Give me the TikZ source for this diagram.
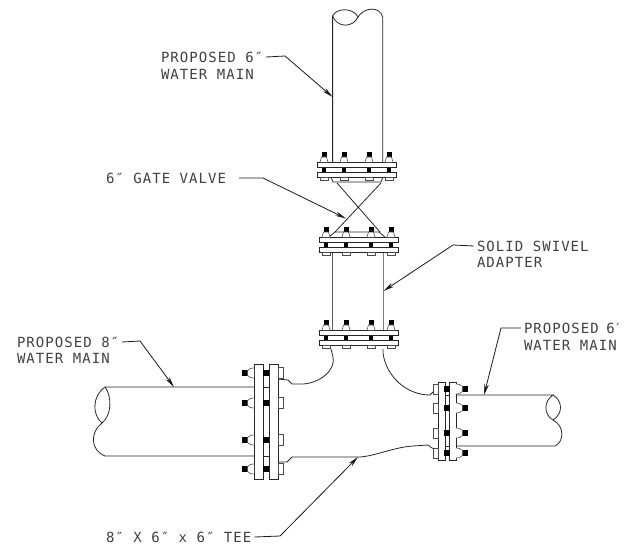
\documentclass[tikz,border=0pt]{standalone}
\usepackage{fontspec}
\setmainfont[LetterSpace=7.5]{DejaVu Sans Mono}
\usetikzlibrary{arrows.meta}
\tikzset{
  pipeline/.style={draw=black!85,line width=0.8pt},
  plate/.style={draw=black!85,line width=0.8pt,fill=white},
  nutblack/.style={fill=black},
  nutwhite/.style={draw=black!70,line width=0.6pt,fill=white},
  leader/.style={draw=black!90,line width=0.8pt,-{Stealth[length=11pt,width=4.5pt]}},
  lab/.style={inner sep=0pt,outer sep=3pt,anchor=west,text=black!75,font=\fontsize{14}{16}\selectfont},
}
% horizontal flange pair: xleft, xright, ytop, bolt list
\newcommand{\hflange}[4]{
  \draw[plate] (#1,#3) rectangle (#2,#3+5);
  \draw[plate] (#1,#3+10) rectangle (#2,#3+15);
  \foreach \bx in {#4}{
    \fill[nutblack] (\bx-2.5,#3-10.5) rectangle (\bx+2.5,#3-5);
    \draw[nutwhite] (\bx-4,#3) .. controls (\bx-4,#3-2) .. (\bx-2.5,#3-5) -- (\bx+2.5,#3-5) .. controls (\bx+4,#3-2) .. (\bx+4,#3);
    \fill[nutblack] (\bx-2.2,#3+5.5) rectangle (\bx+2.2,#3+9.5);
    \draw[nutwhite] (\bx-4,#3+15) rectangle (\bx+4,#3+18.5);
  }
}
% one bolt of a vertical flange: dome face x, hex face x, y, direction of black nut, centre x
\newcommand{\vbolt}[5]{%
  \fill[nutblack] (#1+#4*6.5,#3-3) rectangle (#1+#4*12,#3+3);
  \draw[nutwhite] (#1,#3-5) .. controls (#1+#4*3,#3-5) .. (#1+#4*6.5,#3-2.5) -- (#1+#4*6.5,#3+2.5) .. controls (#1+#4*3,#3+5) .. (#1,#3+5);
  \fill[nutblack] (#5-2.6,#3-2.8) rectangle (#5+2.6,#3+2.8);
  \draw[nutwhite] (#2,#3-5) rectangle (#2-#4*4.5,#3+5);
}
\begin{document}
\begin{tikzpicture}[x=1pt,y=-1pt]
\useasboundingbox (0,0) rectangle (624,549);

% upper pipe with break
\draw[pipeline] (332.6,162) -- (332.6,16) .. controls (336,8) and (353,7) .. (358,17)
  .. controls (364,7) and (380,6) .. (382.7,17) -- (382.7,162);
\draw[pipeline] (332.6,16) .. controls (337,28) and (353,28) .. (358,17);

% valve body
\draw[pipeline] (331,177) -- (333,182) -- (381,182) -- (383,177);
\draw[pipeline] (337,183) -- (380,232);
\draw[pipeline] (381,183) -- (335,232);
\draw[pipeline] (329,237) -- (335,232) -- (379,232) -- (385,237);

% swivel adapter
\draw[draw=black!65,line width=1pt] (332.3,252) -- (332.3,330);
\draw[draw=black!50,line width=1.3pt] (383.2,252) -- (383.2,330);

% left main with break
\draw[pipeline] (254,387) -- (105,387) .. controls (92,396) and (92,415) .. (102,423)
  .. controls (90,432) and (90,450) .. (105,456) -- (254,456);
\draw[pipeline] (105,387) .. controls (112,396) and (112,415) .. (102,423);

% right main with break
\draw[pipeline] (456,395) -- (553,395) .. controls (544,401) and (543,414) .. (553,420)
  .. controls (565,426) and (564,442) .. (555,446) -- (456,446);
\draw[pipeline] (553,395) .. controls (563,401) and (563,414) .. (553,420);

% tee body
\draw[pipeline] (278,379) -- (288,380) -- (292,384) -- (303,384)
  .. controls (320,383) and (336,370) .. (333,357) -- (331,349);
\draw[pipeline] (383,349) -- (383,353) .. controls (386,376) and (406,395) .. (430,395)
  -- (433,392) -- (438,392);
\draw[pipeline] (278,462) -- (287,462) -- (292,457) -- (360,457)
  .. controls (375,456) and (395,447) .. (413,446) -- (428,445) -- (432,448) -- (438,450);

% flanges on the vertical run
\hflange{317}{396}{162}{324,344,369,389}
\hflange{319}{398}{237}{326,346,371,391}
\hflange{319}{398}{330}{326,346,371,391}

% left flange
\draw[plate] (254,364) rectangle (263,479);
\draw[plate] (269,364) rectangle (278,479);
\draw[pipeline] (263,387) -- (269,387) (263,456) -- (269,456);
\foreach \by in {373,403,440,469}{\vbolt{254}{278}{\by}{-1}{266}}
\foreach \by in {373,403,440,469}{\draw[nutwhite] (278,\by-5.5) rectangle (283,\by+5.5);}

% right flange
\draw[plate] (438,382) rectangle (445,460);
\draw[plate] (449,382) rectangle (456,460);
\draw[pipeline] (445,395) -- (449,395) (445,446) -- (449,446);
\foreach \by in {389,408,433,453}{\vbolt{456}{438}{\by}{1}{447}}

% labels
\node[lab] (l1a) at (158,57) {PROPOSED 6″};
\node[lab] (l1b) at (158,74) {WATER MAIN};
\node[lab] (l2)  at (103,178) {6″ GATE VALVE};
\node[lab] (l3a) at (474,246) {SOLID SWIVEL};
\node[lab] (l3b) at (474,262) {ADAPTER};
\node[lab] (l4a) at (14,342) {PROPOSED 8″};
\node[lab] (l4b) at (14,358) {WATER MAIN};
\node[lab] (l5a) at (521,328) {PROPOSED\kern-2pt\ 6\kern-1pt′\kern-4pt};
\node[lab] (l5b) at (521,345) {WATER MAIN};
\node[lab] (l6)  at (103,537) {8″ X 6″ x 6″ TEE};

% leader elbows and tips
\coordinate (e1) at (285,56);  \coordinate (t1) at (332.6,97);
\coordinate (e2) at (263,178); \coordinate (t2) at (346,218.5);
\coordinate (e3) at (453,245); \coordinate (t3) at (383.5,291);
\coordinate (e4) at (140,341); \coordinate (t4) at (174,387);
\coordinate (e5) at (501,328); \coordinate (t5) at (484,395);
\coordinate (e6) at (280,536); \coordinate (t6) at (358,457);

\draw[leader] (l1a.east) -- (e1) -- (t1);
\draw[leader] ([xshift=10pt]l2.east)  -- (e2) -- (t2);
\draw[leader] (l3a.west) -- (e3) -- (t3);
\draw[leader] (l4a.east) -- (e4) -- (t4);
\draw[leader] (l5a.west) -- (e5) -- (t5);
\draw[leader] (l6.east)  -- (e6) -- (t6);
\end{tikzpicture}
\end{document}
